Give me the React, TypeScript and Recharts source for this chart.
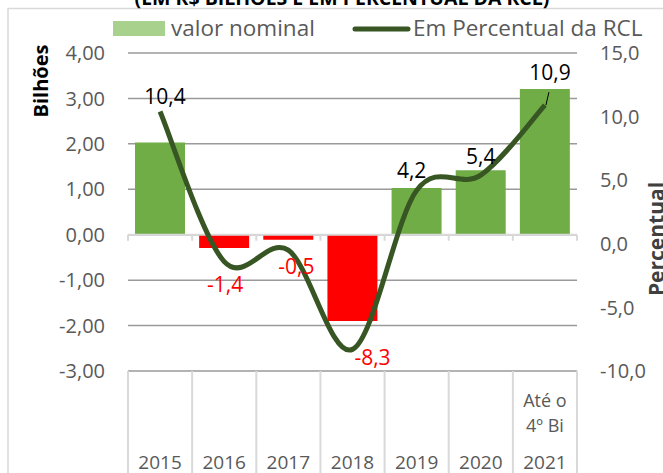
import React from 'react';
import {
  ComposedChart,
  Bar,
  Line,
  XAxis,
  YAxis,
  CartesianGrid,
  Cell,
  LabelList,
  ReferenceLine,
} from 'recharts';

const years = ['2015', '2016', '2017', '2018', '2019', '2020', '2021'];
const yearNotes = [[], [], [], [], [], [], ['Até o', '4º Bi']];
const nominal = [2.03, -0.29, -0.11, -1.9, 1.03, 1.42, 3.21];
const percentRcl = [10.4, -1.4, -0.5, -8.3, 4.2, 5.4, 10.9];
const leftTicks = [-3, -2, -1, 0, 1, 2, 3, 4];
const rightTicks = [-10, -5, 0, 5, 10, 15];

const data = years.map((year, i) => ({
  year,
  nominal: nominal[i],
  pct: percentRcl[i],
}));

const W = 663;
const H = 473;
const LEFT_W = 128;
const RIGHT_W = 86;
const TOP = 53;
const X_H = 102;
const BAND = (W - LEFT_W - RIGHT_W) / years.length;
const FONT = "'Open Sans', 'Noto Sans', sans-serif";
const GRAY = '#595959';
const LIGHT = '#D9D9D9';

// where each data label sits relative to its point (Excel moved them by hand)
const labelShift: [number, number][] = [
  [5, -15],
  [1, 23],
  [8, 17],
  [20, 9],
  [-5, -19],
  [0, -18],
  [5, -32],
];

const comma = (v: number, d: number) => v.toFixed(d).replace('.', ',');

// Excel style smoothing (catmull-rom, 1/6 chord tangents)
const excelSmooth = (context: any) => {
  let pts: number[][] = [];
  return {
    areaStart() {},
    areaEnd() {},
    lineStart() {
      pts = [];
    },
    point(x: number, y: number) {
      pts.push([+x, +y]);
    },
    lineEnd() {
      const n = pts.length;
      if (!n) return;
      context.moveTo(pts[0][0], pts[0][1]);
      for (let i = 0; i < n - 1; i++) {
        const p0 = pts[i === 0 ? 0 : i - 1];
        const p1 = pts[i];
        const p2 = pts[i + 1];
        const p3 = pts[i + 2 < n ? i + 2 : n - 1];
        context.bezierCurveTo(
          p1[0] + (p2[0] - p0[0]) / 6,
          p1[1] + (p2[1] - p0[1]) / 6,
          p2[0] - (p3[0] - p1[0]) / 6,
          p2[1] - (p3[1] - p1[1]) / 6,
          p2[0],
          p2[1]
        );
      }
    },
  };
};

const YearTick = (props: any) => {
  const { x, y, payload } = props;
  const i = years.indexOf(payload.value);
  const notes = yearNotes[i] || [];
  return (
    <g>
      <line x1={x - BAND / 2} y1={y} x2={x - BAND / 2} y2={H} stroke={LIGHT} strokeWidth={2} />
      {i === years.length - 1 && (
        <line x1={x + BAND / 2} y1={y} x2={x + BAND / 2} y2={H} stroke={LIGHT} strokeWidth={2} />
      )}
      {notes.map((t, k) => (
        <text key={k} x={x} y={y + 36 + k * 25} textAnchor="middle" fill={GRAY} fontSize={18} fontFamily={FONT}>
          {t}
        </text>
      ))}
      <text x={x} y={y + 98} textAnchor="middle" fill={GRAY} fontSize={19} fontFamily={FONT}>
        {payload.value}
      </text>
    </g>
  );
};

const ZeroAxis = (props: any) => {
  const { x1, y1, x2 } = props;
  const step = (x2 - x1) / years.length;
  return (
    <g>
      <line x1={x1} y1={y1} x2={x2} y2={y1} stroke={LIGHT} strokeWidth={2} />
      {years.concat(['']).map((_, k) => (
        <line key={k} x1={x1 + k * step} y1={y1} x2={x1 + k * step} y2={y1 + 6} stroke={LIGHT} strokeWidth={2} />
      ))}
    </g>
  );
};

const PctLabel = (props: any) => {
  const { x, y, value, index } = props;
  const [dx, dy] = labelShift[index] || [0, -15];
  const cx = x + dx;
  const cy = y + dy;
  return (
    <g>
      {index === years.length - 1 && (
        <line x1={x + 4} y1={y - 13} x2={x + 1} y2={y} stroke="#000" strokeWidth={1} />
      )}
      <text
        x={cx}
        y={cy + 7}
        textAnchor="middle"
        fontSize={21}
        fontFamily={FONT}
        fill={value < 0 ? '#FF0000' : '#000000'}
      >
        {comma(value, 1)}
      </text>
    </g>
  );
};

const App: React.FC = () => {
  return (
    <div style={{ position: 'absolute', left: 0, top: 0, width: W, height: H, overflow: 'hidden', background: '#fff' }}>
      <ComposedChart
        width={W}
        height={H}
        data={data}
        margin={{ top: TOP, right: 0, bottom: 0, left: 0 }}
        barCategoryGap={0}
      >
        <CartesianGrid yAxisId="left" vertical={false} stroke="#9A9A9A" strokeWidth={1.5} />
        <XAxis
          dataKey="year"
          height={X_H}
          axisLine={false}
          tickLine={false}
          tickSize={0}
          tickMargin={0}
          interval={0}
          tick={<YearTick />}
        />
        <YAxis
          yAxisId="left"
          width={LEFT_W}
          domain={[-3, 4]}
          ticks={leftTicks}
          axisLine={false}
          tickLine={false}
          tickSize={0}
          tickMargin={23}
          tickFormatter={(v: number) => comma(v, 2)}
          tick={{ fill: GRAY, fontSize: 20, fontFamily: FONT }}
        />
        <YAxis
          yAxisId="right"
          orientation="right"
          width={RIGHT_W}
          domain={[-10, 15]}
          ticks={rightTicks}
          axisLine={false}
          tickLine={false}
          tickSize={0}
          tickMargin={23}
          tickFormatter={(v: number) => comma(v, 1)}
          tick={{ fill: GRAY, fontSize: 20, fontFamily: FONT }}
        />
        <Bar yAxisId="left" dataKey="nominal" barSize={50} isAnimationActive={false}>
          {data.map((d, i) => (
            <Cell key={i} fill={d.nominal < 0 ? '#FF0000' : '#70AD47'} />
          ))}
        </Bar>
        <ReferenceLine yAxisId="left" y={0} shape={<ZeroAxis />} />
        <Line
          yAxisId="right"
          dataKey="pct"
          type={excelSmooth as any}
          stroke="#375623"
          strokeWidth={5}
          dot={false}
          activeDot={false}
          isAnimationActive={false}
        >
          <LabelList dataKey="pct" content={<PctLabel />} />
        </Line>
      </ComposedChart>
      <svg
        width={W}
        height={H}
        style={{ position: 'absolute', left: 0, top: 0, pointerEvents: 'none' }}
        fontFamily={FONT}
      >
        <rect x={8} y={8.5} width={W + 20} height={H + 20} fill="none" stroke={LIGHT} strokeWidth={1.5} />
        <text x={342} y={5} textAnchor="middle" fontSize={19.5} fontWeight="bold" fill="#000">
          (EM R$ BILHÕES E EM PERCENTUAL DA RCL)
        </text>
        <rect x={113} y={21} width={52} height={15} fill="#A9D18E" />
        <text x={171} y={36} fontSize={22.5} fill={GRAY}>
          valor nominal
        </text>
        <line x1={355} y1={29} x2={408} y2={29} stroke="#375623" strokeWidth={5} strokeLinecap="round" />
        <text x={413} y={36} fontSize={22.5} fill={GRAY}>
          Em Percentual da RCL
        </text>
        <text
          transform="translate(48 81) rotate(-90)"
          textAnchor="middle"
          fontSize={20}
          fontWeight="bold"
          fill="#000"
        >
          Bilhões
        </text>
        <text
          transform="translate(664 239) rotate(-90)"
          textAnchor="middle"
          fontSize={21}
          fontWeight="bold"
          fill="#404040"
        >
          Percentual
        </text>
      </svg>
    </div>
  );
};

export default App;
